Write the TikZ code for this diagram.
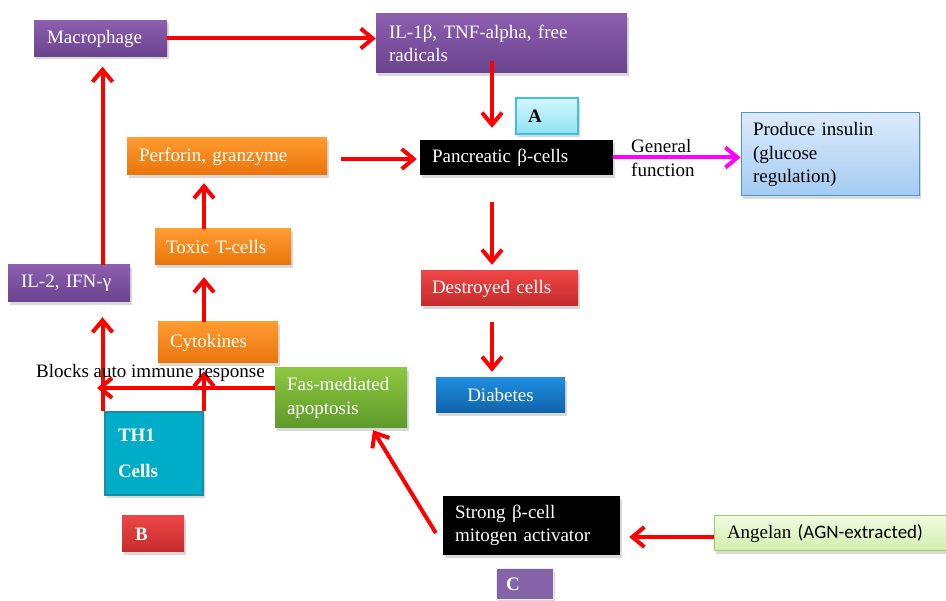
\documentclass[tikz,border=0pt]{standalone}
\usepackage{fontspec}
\setmainfont{Liberation Serif}
\newfontfamily\calibrifont{Carlito}
\usetikzlibrary{arrows.meta,shadows}

\definecolor{purtop}{HTML}{8C5EAF}
\definecolor{purbot}{HTML}{6A438E}
\definecolor{orgtop}{HTML}{FF9B30}
\definecolor{orgbot}{HTML}{E9740B}
\definecolor{redtop}{HTML}{EE4646}
\definecolor{redbot}{HTML}{C42B2B}
\definecolor{blutop}{HTML}{1F8DE0}
\definecolor{blubot}{HTML}{0F62A8}
\definecolor{grntop}{HTML}{8DC740}
\definecolor{grnbot}{HTML}{5E9A2A}
\definecolor{cyatop}{HTML}{D2F7FD}
\definecolor{cyabot}{HTML}{8FE2F4}
\definecolor{cyaline}{HTML}{3FC0E3}
\definecolor{skytop}{HTML}{DCEBFB}
\definecolor{skybot}{HTML}{A3CBF3}
\definecolor{skyline}{HTML}{4E93D3}
\definecolor{limtop}{HTML}{EFFBDF}
\definecolor{limbot}{HTML}{D2EFAC}
\definecolor{limline}{HTML}{9ACD5F}
\definecolor{teal1}{HTML}{00ADC8}
\definecolor{teal2}{HTML}{1E8CA0}
\definecolor{purC}{HTML}{8563A8}
\definecolor{arrred}{HTML}{FF0000}
\definecolor{arrmag}{HTML}{FF00FF}

\begin{document}
\begin{tikzpicture}[x=1pt, y=-1pt, font=\fontsize{19}{23.5}\selectfont,
    >={Straight Barb[length=12pt,width=20pt]}]
    \tikzstyle{box} = [rectangle, inner sep=0pt, align=left,
        drop shadow={shadow xshift=2pt, shadow yshift=-3pt, opacity=0.3}]
    \tikzstyle{purplebox} = [box, top color=purtop, bottom color=purbot, text=white]
    \tikzstyle{orangebox} = [box, top color=orgtop, bottom color=orgbot, text=white]
    \tikzstyle{redbox}    = [box, top color=redtop, bottom color=redbot, text=white]
    \tikzstyle{bluebox}   = [box, top color=blutop, bottom color=blubot, text=white]
    \tikzstyle{greenbox}  = [box, top color=grntop, bottom color=grnbot, text=white]
    \tikzstyle{blackbox}  = [box, fill=black, text=white]
    \tikzstyle{cyanbox}   = [box, top color=cyatop, bottom color=cyabot, draw=cyaline, line width=1.2pt]
    \tikzstyle{skybox}    = [box, top color=skytop, bottom color=skybot, draw=skyline, line width=1pt]
    \tikzstyle{limebox}   = [box, top color=limtop, bottom color=limbot, draw=limline, line width=1pt]
    \tikzstyle{arr} = [->, draw=arrred, line width=4pt]

    \useasboundingbox (0,0) rectangle (946,601);

    % 节点
    \node (mac)  [purplebox, minimum width=133pt, minimum height=36pt, text width=107pt] at (100.5,38.5) {Macrophage};
    \node (il1)  [purplebox, minimum width=251pt, minimum height=59pt, text width=225pt] at (501.5,43.5) {IL-1β, TNF-alpha, free\\radicals};
    \node (boxA) [cyanbox, minimum width=62pt, minimum height=36pt, text width=38pt] at (547,116) {\textbf{A}};
    \node (panc) [blackbox, minimum width=193pt, minimum height=35pt, text width=169pt] at (516.5,157.5) {Pancreatic β-cells};
    \node (prod) [skybox, minimum width=178pt, minimum height=83pt, text width=154pt] at (830,154.5) {Produce insulin\\(glucose\\regulation)};
    \node (perf) [orangebox, minimum width=200pt, minimum height=37pt, text width=176pt] at (227,156.5) {Perforin, granzyme};
    \node (tox)  [orangebox, minimum width=136pt, minimum height=36pt, text width=114pt] at (223,247) {Toxic T-cells};
    \node (dest) [redbox, minimum width=157pt, minimum height=35pt, text width=135pt] at (499.5,288.5) {Destroyed cells};
    \node (diab) [bluebox, minimum width=129pt, minimum height=35pt, text width=105pt, align=center] at (500.5,395.5) {Diabetes};
    \node (il2)  [purplebox, minimum width=122pt, minimum height=37pt, text width=96pt] at (69,283.5) {IL-2, IFN-γ};
    \node (cyto) [orangebox, minimum width=120pt, minimum height=41pt, text width=96pt] at (218,342.5) {Cytokines};
    \node (fas)  [greenbox, minimum width=132pt, minimum height=60pt, text width=108pt] at (341,398) {Fas-mediated\\apoptosis};
    \node (th1)  [box, fill=teal1, draw=teal2, line width=2pt, text=white,
                  minimum width=98pt, minimum height=83pt, text width=72pt] at (154,453.5) {\textbf{TH1}\\[12pt]\textbf{Cells}};
    \node (boxB) [redbox, minimum width=62pt, minimum height=36pt, text width=36pt] at (153,534) {\textbf{B}};
    \node (strong) [blackbox, minimum width=177pt, minimum height=59pt, text width=153pt] at (531.5,525.5) {Strong β-cell\\mitogen activator};
    \node (ang)  [limebox, minimum width=238pt, minimum height=35pt, text width=212pt] at (833,533.5) {Angelan {\calibrifont (AGN-extracted)}};
    \node (boxC) [box, fill=purC, draw=gray!15, line width=1pt, text=white,
                  minimum width=57pt, minimum height=30pt, text width=37pt] at (524.5,584) {\textbf{C}};

    \node (gen) [anchor=north west, inner sep=0pt, align=left] at (631,139.5) {General\\function};
    \coordinate (blkend) at (97,388);

    % 箭头
    \draw [arr] (mac.east) -- (mac.east -| il1.west);
    \draw [arr, shorten <=-12pt, shorten >=12pt] ([xshift=-24.5pt]panc.north |- il1.south) -- ([xshift=-24.5pt]panc.north);
    \draw [arr, shorten <=27pt, shorten >=6pt] ([xshift=-24.5pt]panc.south) -- ([xshift=-24.5pt]panc.south |- dest.north);
    \draw [arr, shorten <=16pt, shorten >=6pt] ([xshift=-24.5pt]panc.south |- dest.south) -- ([xshift=-24.5pt]panc.south |- diab.north);
    \draw [arr, shorten <=14pt, shorten >=3pt] ([yshift=-2.5pt]perf.east) -- ([yshift=-2.5pt]perf.east -| panc.west);
    \draw [arr, draw=arrmag] (panc.east) -- (panc.east -| prod.west);
    \draw [arr, shorten >=8pt] (tox.north -| th1.north east) -- (perf.south -| th1.north east);
    \draw [arr, shorten >=12pt] (cyto.north -| th1.north east) -- (tox.south -| th1.north east);
    \draw [arr, shorten >=8pt] (th1.north east) -- (th1.north east |- cyto.south);
    \draw [arr, shorten >=15pt] ([xshift=-1.5pt]th1.north west) -- ([xshift=-1.5pt]th1.north west |- il2.south);
    \draw [arr, shorten >=10pt] ([xshift=-1.5pt]il2.north -| th1.north west) -- ([xshift=-1.5pt]mac.south -| th1.north west);
    \draw [arr] ([yshift=10pt]fas.west) -- (blkend);
    \draw [arr] ([xshift=-7pt,yshift=-7.5pt]strong.west) -- ([xshift=32pt,yshift=-2pt]fas.south);
    \draw [arr, shorten >=9pt] ([yshift=-3.5pt]ang.west) -- ([yshift=-3.5pt]ang.west -| strong.east);

    % 文字压在箭头上
    \node (blk) [anchor=base west, inner sep=0pt] at (36,378) {Blocks auto immune response};
\end{tikzpicture}
\end{document}
